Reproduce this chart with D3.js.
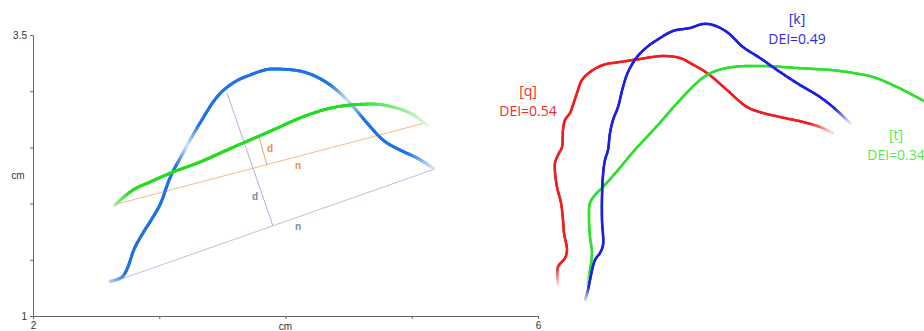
<!DOCTYPE html>
<html>
<head>
<meta charset="utf-8">
<script src="https://cdn.jsdelivr.net/npm/d3@7"></script>
<style>
  body { margin: 0; background: #fff; }
  svg { display: block; }
  .axis text { font-family: "Liberation Sans", Arial, sans-serif; font-size: 10px; fill: #333; }
  .axis path, .axis line { stroke: #666; }
</style>
</head>
<body>
<div id="wrapper"></div>
<script>
// left panel: tongue contours in cm
const xTicks = [2, 3, 4, 5, 6];
const yTicks = [1, 1.5, 2, 2.5, 3, 3.5];
const xTickLabels = ["2", "", "", "", "6"];
const yTickLabels = ["1", "", "", "", "", "3.5"];
const axisTitle = "cm";

const blueCurve = [[2.610,1.310],[2.705,1.347],[2.752,1.436],[2.792,1.569],[2.871,1.738],[2.951,1.881],[3.022,2.032],[3.069,2.184],
  [3.188,2.450],[3.323,2.717],[3.457,2.948],[3.584,3.073],[3.719,3.144],[3.901,3.198],[4.059,3.189],[4.250,3.126],
  [4.376,3.037],[4.511,2.895],[4.646,2.717],[4.772,2.566],[4.907,2.477],[5.042,2.406],[5.168,2.317]];
const greenCurve = [[2.650,1.988],[2.792,2.121],[2.927,2.192],[3.109,2.281],[3.323,2.370],[3.537,2.477],[3.719,2.566],
  [3.901,2.655],[4.115,2.762],[4.329,2.842],[4.511,2.877],[4.693,2.886],[4.851,2.859],[4.986,2.806],[5.121,2.699]];
const orangeLine = [[2.665,1.996],[5.105,2.717]];
const baseLine = [[2.610,1.294],[5.184,2.308]];
const blueDist = [[3.537,2.984],[3.901,1.801]];
const orangeDist = [[3.790,2.593],[3.853,2.343]];
const leftNotes = ["d", "n", "d", "n"];

// right panel: traced contours, arbitrary units
const redTrace = [[4.5,8.75],[4.5,13.25],[6.25,15.5],[6.75,17.5],[6,21.75],[5.75,25],[5.25,29.25],[4.25,33.25],[3.75,37],
  [3.75,39.25],[4.5,41.25],[5.5,43.25],[5.75,47.5],[6.25,50],[7.5,51.75],[8.25,53.75],[9.25,56.75],[10.5,60],[12.5,62],
  [15.75,63.75],[20,64.5],[25,65.25],[30.75,66],[35,65.5],[37.5,64.25],[41.75,61.75],[46.75,57.5],[51.75,53.25],
  [55.75,51.75],[60,50.75],[65.75,49.5],[70,48.25],[73.25,46.75]];
const blueTrace = [[11.25,5],[12,7.5],[12.5,10],[13.75,15],[15,16.75],[15.75,18.75],[15.5,25],[15.5,30.75],[15.75,36.25],
  [16.25,40],[17,42.5],[17.5,46.75],[18.25,50],[19.5,53.25],[20.75,58.25],[22,62],[24.25,65.75],[26.75,68.25],[29.25,70],
  [33.25,72.25],[37.5,73],[40.75,74],[43.25,73.75],[46.75,72],[50.75,68.25],[55,65.5],[60,62],[65,58.75],[69.25,56.25],
  [73.25,53.25],[77.5,49.25]];
const greenTrace = [[11.75,8.75],[12.5,12.5],[13,16.75],[12.5,20.75],[12.25,25.75],[12.5,29.25],[13.75,31.25],[15.75,33.25],
  [19.5,37.5],[23.25,42],[29.25,48.5],[35,55],[40,60],[43.25,62],[48.25,63.25],[55.75,63.5],[64.25,63],[72.5,62.5],
  [76.75,62],[83.25,60.75],[89.25,58.25],[96,54.75]];
const segments = ["[q]", "[k]", "[t]"];
const deiValues = [0.54, 0.49, 0.34];

const width = 924, height = 331;
const svg = d3.select("#wrapper").append("svg")
  .attr("width", width).attr("height", height);

const x = d3.scaleLinear().domain([2, 6]).range([33, 538]);
const y = d3.scaleLinear().domain([1, 3.5]).range([316, 35]);
const xR = d3.scaleLinear().domain([0, 96]).range([540, 924]);
const yR = d3.scaleLinear().domain([0, 80]).range([320, 0]);

// axes
svg.append("g").attr("class", "axis")
  .attr("transform", `translate(0,${y(1)})`)
  .call(d3.axisBottom(x).tickValues(xTicks).tickSize(3).tickSizeOuter(0)
    .tickFormat((d, i) => xTickLabels[i]));
svg.append("g").attr("class", "axis")
  .attr("transform", `translate(${x(2)},0)`)
  .call(d3.axisLeft(y).tickValues(yTicks).tickSize(3).tickSizeOuter(0)
    .tickFormat((d, i) => yTickLabels[i]));
svg.append("text")
  .attr("x", x(4)).attr("y", y(1) + 14).attr("text-anchor", "middle")
  .style("font-family", "Liberation Sans, Arial, sans-serif").style("font-size", "10px").attr("fill", "#333")
  .text(axisTitle);
svg.append("text")
  .attr("x", 18).attr("y", y(2.25) + 3).attr("text-anchor", "middle")
  .style("font-family", "Liberation Sans, Arial, sans-serif").style("font-size", "10px").attr("fill", "#333")
  .text(axisTitle);

// straight guide lines
const straight = (pts, sx, sy, color, w) => svg.append("line")
  .attr("x1", sx(pts[0][0])).attr("y1", sy(pts[0][1]))
  .attr("x2", sx(pts[1][0])).attr("y2", sy(pts[1][1]))
  .attr("stroke", color).attr("stroke-width", w);
straight(baseLine, x, y, "#b3c3e0", 1);
straight(orangeLine, x, y, "#f8b888", 1);
straight(blueDist, x, y, "#a7b5d3", 1);
straight(orangeDist, x, y, "#f2a060", 1);

// curve with colour fading to white along its length
function fadedCurve(pts, sx, sy, color, w, stops, curve) {
  const tmp = svg.append("path")
    .attr("d", d3.line().x(d => sx(d[0])).y(d => sy(d[1])).curve(curve)(pts))
    .attr("fill", "none").attr("stroke", "none");
  const node = tmp.node();
  const len = node.getTotalLength();
  const fade = d3.scaleLinear().domain(stops.map(s => s[0])).range(stops.map(s => s[1])).clamp(true);
  const mix = d3.interpolateRgb(color, "#ffffff");
  const n = Math.ceil(len / 1.5);
  const g = svg.append("g").attr("stroke-width", w).attr("stroke-linecap", "round");
  let prev = node.getPointAtLength(0);
  for (let i = 1; i <= n; i++) {
    const p = node.getPointAtLength(len * i / n);
    g.append("line").attr("x1", prev.x).attr("y1", prev.y).attr("x2", p.x).attr("y2", p.y)
      .attr("stroke", mix(fade((i - 0.5) / n)));
    prev = p;
  }
  tmp.remove();
}

fadedCurve(blueCurve, x, y, "#1e74e4", 3,
  [[0, 0.7], [0.04, 0], [0.29, 0], [0.34, 0.8], [0.39, 0], [0.72, 0], [0.77, 0.8], [0.82, 0], [0.94, 0], [1, 0.8]],
  d3.curveMonotoneX);
fadedCurve(greenCurve, x, y, "#22dd22", 3,
  [[0, 0.6], [0.06, 0], [0.78, 0], [1, 0.85]], d3.curveMonotoneX);

// d / n annotations
const noteStyle = [
  { p: [3.877, 2.486], c: "#f08a3c" }, { p: [4.099, 2.343], c: "#f08a3c" },
  { p: [3.758, 2.059], c: "#7389b3" }, { p: [4.099, 1.792], c: "#7389b3" }];
svg.selectAll(".note").data(leftNotes).join("text")
  .attr("x", (d, i) => x(noteStyle[i].p[0])).attr("y", (d, i) => y(noteStyle[i].p[1]))
  .attr("text-anchor", "middle").attr("dy", "0.35em")
  .style("font-family", "Liberation Sans, Arial, sans-serif").style("font-size", "10px").style("font-weight", "bold")
  .attr("fill", (d, i) => noteStyle[i].c)
  .text(d => d);

// right panel traces
fadedCurve(redTrace, xR, yR, "#f01e1e", 2.5, [[0, 0.9], [0.04, 0], [0.95, 0], [1, 0.85]], d3.curveCatmullRom);
fadedCurve(greenTrace, xR, yR, "#2ee02e", 2.5, [[0, 0.8], [0.03, 0], [1, 0]], d3.curveCatmullRom);
fadedCurve(blueTrace, xR, yR, "#1e1ee6", 2.5, [[0, 0.85], [0.03, 0], [0.96, 0], [1, 0.85]], d3.curveCatmullRom);

const labelStyle = [
  { p: [-3, 56], c: "#f22a2a" },
  { p: [64.25, 74], c: "#2a2ae8" },
  { p: [89, 45], c: "#55e855" }];
segments.forEach((s, i) => {
  const t = svg.append("text")
    .attr("x", xR(labelStyle[i].p[0])).attr("y", yR(labelStyle[i].p[1]))
    .attr("text-anchor", "middle")
    .style("font-family", "Open Sans, sans-serif").style("font-size", "14px")
    .attr("fill", labelStyle[i].c);
  t.append("tspan").attr("x", xR(labelStyle[i].p[0])).text(s);
  t.append("tspan").attr("x", xR(labelStyle[i].p[0])).attr("dy", "1.45em").text("DEI=" + deiValues[i]);
});
</script>
</body>
</html>
